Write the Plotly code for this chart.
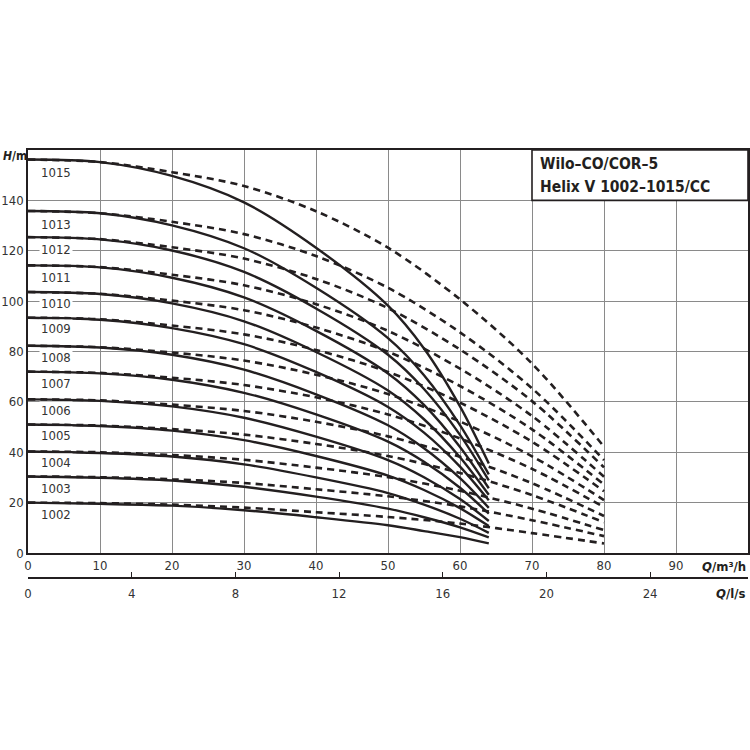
import plotly.graph_objects as go

# ---- data ----
pump_names = ["1002", "1003", "1004", "1005", "1006", "1007", "1008",
              "1009", "1010", "1011", "1012", "1013", "1015"]

q_solid = [0, 10, 20, 30, 40, 50, 55, 60, 64]
h_solid = {
    "1002": [20.0, 19.5, 18.8, 17.0, 14.2, 11.0, 8.7, 6.3, 3.8],
    "1003": [30.4, 29.9, 28.8, 26.3, 22.4, 17.6, 14.2, 10.2, 6.2],
    "1004": [40.3, 39.7, 38.3, 35.2, 30.0, 23.8, 19.2, 13.6, 8.0],
    "1005": [51.0, 50.4, 48.6, 44.8, 38.5, 30.7, 25.0, 17.8, 10.7],
    "1006": [61.0, 60.4, 58.2, 53.7, 46.2, 36.9, 30.1, 21.4, 12.7],
    "1007": [72.0, 71.3, 68.8, 63.6, 55.0, 44.2, 36.2, 25.9, 15.6],
    "1008": [82.3, 81.6, 78.7, 72.8, 63.0, 50.7, 41.6, 29.7, 17.9],
    "1009": [93.4, 92.6, 89.3, 82.9, 71.9, 58.0, 47.8, 34.3, 20.9],
    "1010": [103.6, 102.8, 99.1, 92.0, 79.8, 64.5, 53.1, 38.0, 23.1],
    "1011": [114.2, 113.4, 109.3, 101.5, 88.2, 71.3, 58.8, 42.1, 25.7],
    "1012": [125.4, 124.5, 120.1, 111.6, 97.1, 78.7, 65.1, 46.9, 28.8],
    "1013": [135.8, 134.9, 130.1, 121.0, 105.3, 85.3, 70.6, 50.8, 31.2],
    "1015": [156.2, 155.2, 149.7, 139.2, 121.2, 98.2, 81.2, 58.2, 35.5],
}

q_dash = [0, 10, 20, 30, 40, 50, 60, 70, 80]
h_dash = {
    "1002": [20.0, 19.8, 19.2, 18.0, 16.2, 14.3, 11.7, 7.9, 3.8],
    "1003": [30.4, 30.1, 29.3, 27.8, 25.3, 22.5, 18.5, 13.0, 6.7],
    "1004": [40.3, 40.0, 38.9, 37.0, 33.9, 30.1, 24.7, 17.6, 9.1],
    "1005": [51.0, 50.6, 49.2, 47.0, 43.3, 38.5, 31.8, 23.0, 12.2],
    "1006": [61.0, 60.6, 58.9, 56.4, 52.1, 46.3, 38.2, 27.7, 14.7],
    "1007": [72.0, 71.5, 69.6, 66.7, 61.8, 55.0, 45.5, 33.4, 18.2],
    "1008": [82.3, 81.7, 79.6, 76.4, 70.8, 63.1, 52.2, 38.4, 21.0],
    "1009": [93.4, 92.8, 90.3, 86.8, 80.6, 71.9, 59.7, 44.2, 24.5],
    "1010": [103.6, 102.9, 100.2, 96.4, 89.5, 79.9, 66.3, 49.1, 27.2],
    "1011": [114.2, 113.5, 110.5, 106.3, 98.8, 88.2, 73.2, 54.4, 30.3],
    "1012": [125.4, 124.6, 121.4, 116.9, 108.8, 97.2, 80.8, 60.3, 34.0],
    "1013": [135.8, 134.9, 131.5, 126.6, 117.9, 105.3, 87.6, 65.4, 36.9],
    "1015": [156.2, 155.2, 151.2, 145.7, 135.7, 121.2, 100.7, 75.2, 42.2],
}

label_y = {"1002": 15.2, "1003": 25.7, "1004": 35.8, "1005": 46.5, "1006": 56.6,
           "1007": 67.4, "1008": 77.6, "1009": 89.1, "1010": 99.2, "1011": 109.2,
           "1012": 120.4, "1013": 130.6, "1015": 151.0}
label_x = 3.95

x_ticks = [0, 10, 20, 30, 40, 50, 60, 70, 80, 90, 100]
x_ticktext = ["0", "10", "20", "30", "40", "50", "60", "70", "80", "90", ""]
y_ticks = [0, 20, 40, 60, 80, 100, 120, 140, 160]
y_ticktext = ["0", "20", "40", "60", "80", "100", "120", "140", ""]
ls_ticks = [0, 4, 8, 12, 16, 20, 24]

title_lines = ["Wilo–CO/COR–5", "Helix V 1002–1015/CC"]

# ---- figure ----
INK = "#231f20"
GRID = "#8a8a8a"
FONT = "DejaVu Sans Condensed"

fig = go.Figure()
for name in pump_names:
    fig.add_trace(go.Scatter(x=q_dash, y=h_dash[name], mode="lines",
                             line=dict(color=INK, width=2.6, dash="7px,5px", shape="spline", smoothing=0.9),
                             hoverinfo="skip", showlegend=False))
for name in pump_names:
    fig.add_trace(go.Scatter(x=q_solid, y=h_solid[name], mode="lines",
                             line=dict(color=INK, width=2.4, shape="spline", smoothing=0.9),
                             hoverinfo="skip", showlegend=False))

# invisible trace to carry the l/s axis
fig.add_trace(go.Scatter(x=[0, 100 / 3.6], y=[None, None], xaxis="x2", yaxis="y",
                         mode="lines", showlegend=False, hoverinfo="skip"))

T, B = 150, 140
H_PLOT = 750 - T - B
y_bottom_px = 553
ydom0 = (750 - B - y_bottom_px) / H_PLOT
ls_axis_px = 578


def py(px):
    return (750 - B - px) / H_PLOT


annotations = []
for name in pump_names:
    annotations.append(dict(x=label_x, y=label_y[name], xref="x", yref="y", text=name,
                            showarrow=False, bgcolor="white", borderpad=1,
                            font=dict(family=FONT, size=13, color="#333333")))

annotations.append(dict(x=70.9, y=154.5, xref="x", yref="y", xanchor="left", yanchor="middle",
                        text="<b>%s</b>" % title_lines[0], showarrow=False,
                        font=dict(family=FONT, size=15.5, color=INK)))
annotations.append(dict(x=70.9, y=145.4, xref="x", yref="y", xanchor="left", yanchor="middle",
                        text="<b>%s</b>" % title_lines[1], showarrow=False,
                        font=dict(family=FONT, size=15.5, color=INK)))

annotations.append(dict(x=-27 / 720, y=py(156), xref="paper", yref="paper",
                        xanchor="left", yanchor="middle", text="<b><i>H</i>/m</b>",
                        showarrow=False, font=dict(family=FONT, size=12, color=INK)))
annotations.append(dict(x=1.0, y=py(566), xref="paper", yref="paper",
                        xanchor="right", yanchor="middle", text="<b><i>Q</i>/m³/h</b>",
                        showarrow=False, font=dict(family=FONT, size=13, color=INK)))
annotations.append(dict(x=1.0, y=py(593), xref="paper", yref="paper",
                        xanchor="right", yanchor="middle", text="<b><i>Q</i>/l/s</b>",
                        showarrow=False, font=dict(family=FONT, size=13, color=INK)))

fig.update_layout(
    width=750, height=750,
    margin=dict(l=28, r=2, t=T, b=B, pad=0, autoexpand=False),
    paper_bgcolor="white", plot_bgcolor="white",
    showlegend=False,
    font=dict(family=FONT, size=13, color="#333333"),
    xaxis=dict(range=[0, 100], tickvals=x_ticks, ticktext=x_ticktext,
               showgrid=True, gridcolor=GRID, gridwidth=1.2,
               showline=True, linecolor=INK, linewidth=1.6, mirror=True,
               ticks="", zeroline=False, anchor="y", automargin=False,
               tickfont=dict(family=FONT, size=13, color="#333333")),
    yaxis=dict(range=[0, 160], tickvals=y_ticks, ticktext=y_ticktext,
               domain=[ydom0, 1], automargin=False,
               showgrid=True, gridcolor=GRID, gridwidth=1.2,
               showline=True, linecolor=INK, linewidth=1.6, mirror=True,
               ticks="", zeroline=False,
               tickfont=dict(family=FONT, size=13, color="#333333")),
    xaxis2=dict(range=[0, 100 / 3.6], tickvals=ls_ticks, anchor="free",
                position=py(ls_axis_px), overlaying="x", side="bottom",
                showgrid=False, zeroline=False, automargin=False,
                showline=True, linecolor=INK, linewidth=1.6,
                ticks="inside", ticklen=5, tickcolor=INK, tickwidth=1.2,
                ticklabelstandoff=4,
                tickfont=dict(family=FONT, size=13, color="#333333")),
    shapes=[dict(type="rect", xref="x", yref="y", x0=70, x1=100, y0=140, y1=160,
                 fillcolor="white", line=dict(color=INK, width=1.6), layer="above")],
    annotations=annotations,
)

fig.write_html("out.html", config={"displayModeBar": False},
               post_script="document.body.style.margin='0';document.body.style.overflow='hidden';")
